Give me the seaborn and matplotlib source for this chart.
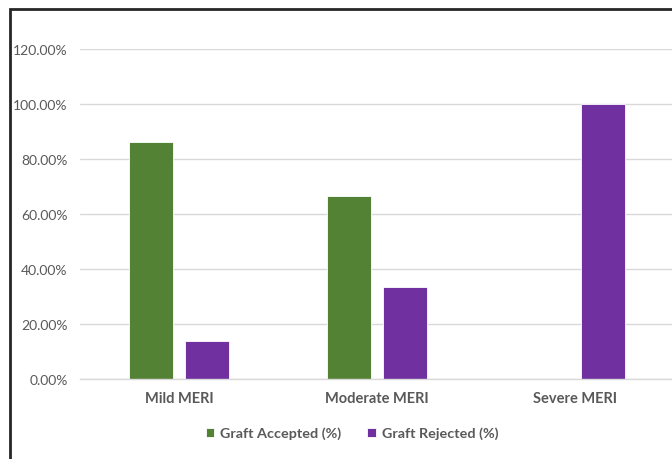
import matplotlib.pyplot as plt
import matplotlib.patches as mpatches
from matplotlib.ticker import FuncFormatter
import pandas as pd
import seaborn as sns

categories = ['Mild MERI', 'Moderate MERI', 'Severe MERI']
accepted = [86.21, 66.67, 0.0]
rejected = [13.79, 33.33, 100.0]
series = ['Graft Accepted (%)', 'Graft Rejected (%)']

df = pd.DataFrame({
    'cat': categories * 2,
    'val': accepted + rejected,
    'series': [series[0]] * 3 + [series[1]] * 3,
})

sns.set_theme(style='white')
plt.rcParams['font.family'] = ['Lato', 'DejaVu Sans']

fig = plt.figure(figsize=(6.72, 4.60), dpi=100)
ax = fig.add_axes([80 / 672, 80 / 460, 594 / 672, 330 / 460])

sns.barplot(data=df, x='cat', y='val', hue='series', ax=ax,
            palette=['#548235', '#7030A0'], saturation=1, width=0.566, gap=0.2,
            edgecolor='white', linewidth=0.6)

ax.set_ylim(0, 120)
ax.set_yticks(range(0, 121, 20))
ax.yaxis.set_major_formatter(FuncFormatter(lambda v, p: f'{v:.2f}%'))
ax.set_xlim(-0.5, 2.5)
ax.grid(axis='y', color='#d9d9d9', linewidth=1)
ax.set_axisbelow(True)
for s in ['top', 'right', 'left']:
    ax.spines[s].set_visible(False)
ax.spines['bottom'].set_color('#d9d9d9')
ax.spines['bottom'].set_linewidth(1)
ax.tick_params(axis='both', length=0, colors='#595959')
ax.tick_params(axis='y', labelsize=10, pad=9)
ax.tick_params(axis='x', labelsize=10.5, pad=9)
for lbl in ax.get_xticklabels():
    lbl.set_fontweight('bold')
ax.set_xlabel('')
ax.set_ylabel('')

handles, labels = ax.get_legend_handles_labels()
ax.legend(handles, labels, loc='center', bbox_to_anchor=(352 / 672, 26 / 460),
          bbox_transform=fig.transFigure, ncol=2, frameon=False,
          handlelength=0.6, handleheight=0.6, handletextpad=0.4, columnspacing=1.8,
          prop={'size': 10.4, 'weight': 'bold'}, labelcolor='#595959')

# chart border (right and bottom edges are cut off in the original)
fig.patches.append(mpatches.Rectangle((10 / 672, -0.1), 1.1, (450 / 460) + 0.1,
                                      transform=fig.transFigure, fill=False,
                                      edgecolor='#262626', linewidth=2))

fig.savefig('out.png', dpi=100)
